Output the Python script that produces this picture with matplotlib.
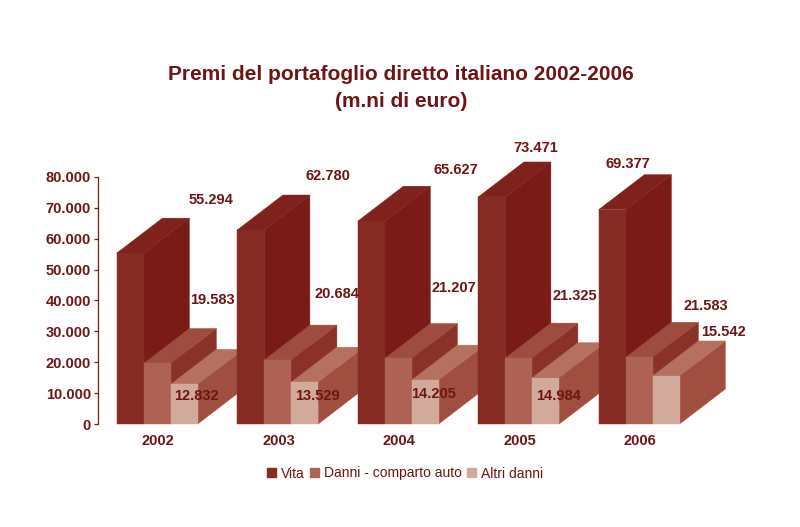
import matplotlib
matplotlib.use("Agg")
import matplotlib.pyplot as plt
from matplotlib.patches import Polygon, Patch

plt.rcParams["font.family"] = ["Liberation Sans", "DejaVu Sans"]

# --- DATA ---
ANNI = ["2002", "2003", "2004", "2005", "2006"]
VITA = [55294, 62780, 65627, 73471, 69377]
DANNI_AUTO = [19583, 20684, 21207, 21325, 21583]
ALTRI_DANNI = [12832, 13529, 14205, 14984, 15542]
NOMI = ["Vita", "Danni - comparto auto", "Altri danni"]

# posizione delle etichette in pixel, come nel grafico originale
POS_VITA = [(211, 199.5), (328, 176.5), (456, 169.5), (536, 148.5), (628, 164.5)]
POS_DANNI = [(212, 300.5), (337, 293.5), (454, 288.5), (575, 296.5), (706, 306)]
POS_ALTRI = [(196, 396.5), (317, 395.5), (434, 393.5), (559, 396.5), (723, 332)]

# --- STILE ---
TESTO = "#6E1512"
ASSE = "#7A1B17"
# fronte, lato, sopra
COL_VITA = ("#862A24", "#7A1B17", "#7F221D")
COL_DANNI = ("#AE6254", "#8A3229", "#9E4C40")
COL_ALTRI = ("#D2AA9C", "#A04E40", "#B5705F")

W, H = 800, 527
X0, Y0 = 97.7, 424.0
PX_GRUPPO = 120.5
PX_10K = 30.9

BAR_W = 27.0 / PX_GRUPPO
MARGINE = 19.0 / PX_GRUPPO
DEPTH_X = 45.7 / PX_GRUPPO
DEPTH_Y = 35.0 / PX_10K * 10000


def barra_3d(ax, x, val, colori):
    fronte, lato, sopra = colori
    dx, dy = DEPTH_X, DEPTH_Y
    lato_pts = [(x + BAR_W, 0), (x + BAR_W + dx, dy), (x + BAR_W + dx, val + dy), (x + BAR_W, val)]
    sopra_pts = [(x, val), (x + dx, val + dy), (x + BAR_W + dx, val + dy), (x + BAR_W, val)]
    fronte_pts = [(x, 0), (x + BAR_W, 0), (x + BAR_W, val), (x, val)]
    for pts, c in [(lato_pts, lato), (sopra_pts, sopra), (fronte_pts, fronte)]:
        ax.add_patch(Polygon(pts, closed=True, fc=c, ec=c, lw=0.3, clip_on=False))


fig = plt.figure(figsize=(W / 100, H / 100), dpi=100, facecolor="white")
ax = fig.add_axes([X0 / W, (H - Y0) / H, 5 * PX_GRUPPO / W, 8 * PX_10K / H])
ax.set_xlim(0, 5)
ax.set_ylim(0, 80000)
ax.patch.set_visible(False)

for i in range(len(ANNI)):
    x = i + MARGINE
    barra_3d(ax, x, VITA[i], COL_VITA)
    barra_3d(ax, x + BAR_W, DANNI_AUTO[i], COL_DANNI)
    barra_3d(ax, x + 2 * BAR_W, ALTRI_DANNI[i], COL_ALTRI)

for valori, posizioni in [(VITA, POS_VITA), (DANNI_AUTO, POS_DANNI), (ALTRI_DANNI, POS_ALTRI)]:
    for v, (px, py) in zip(valori, posizioni):
        fig.text(px / W, 1 - py / H, f"{v:,}".replace(",", "."), color=TESTO,
                 fontsize=10.5, fontweight="bold", ha="center", va="center", zorder=10)

# assi
for s in ["top", "right", "bottom"]:
    ax.spines[s].set_visible(False)
ax.spines["left"].set_color(ASSE)
ax.spines["left"].set_linewidth(0.9)

yt = list(range(0, 80001, 10000))
ax.set_yticks(yt)
ax.set_yticklabels([f"{v:,}".replace(",", ".") for v in yt], color=TESTO, fontsize=10.5, fontweight="bold")
ax.tick_params(axis="y", length=3, width=0.9, color=ASSE, pad=2)

ax.set_xticks([i + 0.5 for i in range(len(ANNI))])
ax.set_xticklabels(ANNI, color=TESTO, fontsize=10.5, fontweight="bold")
ax.tick_params(axis="x", length=0, pad=7)

# titolo
fig.text(401 / W, 1 - 88 / H, "Premi del portafoglio diretto italiano 2002-2006\n(m.ni di euro)",
         color=TESTO, fontsize=15, fontweight="bold", ha="center", va="center", linespacing=1.5)

# legenda
maniglie = [Patch(fc=COL_VITA[0], ec=COL_VITA[0]), Patch(fc=COL_DANNI[0], ec=COL_DANNI[0]),
            Patch(fc=COL_ALTRI[0], ec=COL_ALTRI[0])]
leg = fig.legend(maniglie, NOMI, loc="center", bbox_to_anchor=(405 / W, 1 - 473.5 / H), ncol=3,
                 frameon=False, fontsize=10, labelcolor=TESTO, handlelength=0.65, handleheight=0.65,
                 handletextpad=0.33, columnspacing=0.4, borderpad=0)

fig.savefig("out.png", dpi=100, facecolor="white")
